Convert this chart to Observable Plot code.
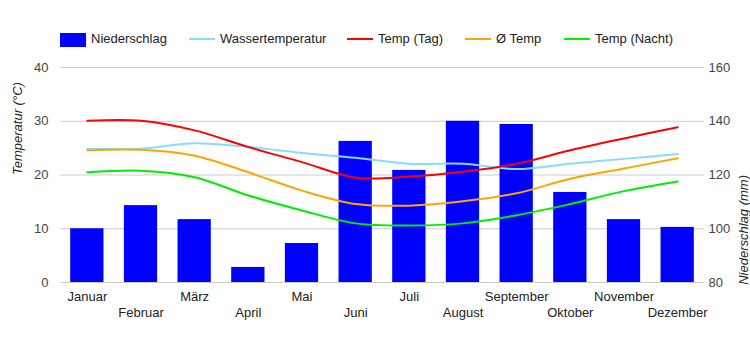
<!DOCTYPE html>
<html><head><meta charset="utf-8">
<script src="https://cdn.jsdelivr.net/npm/d3@7"></script>
<script src="https://cdn.jsdelivr.net/npm/@observablehq/plot@0.6"></script>
<style>
body{margin:0;background:#fff;font-family:"Liberation Sans",Arial,sans-serif;}
#wrap{position:relative;width:750px;height:350px;}
#legend{position:relative;height:50px;}
.it{position:absolute;top:31px;font-size:13px;color:#222;line-height:16px;}
.sw{position:absolute;}
</style></head>
<body><div id="wrap"><div id="legend"></div><div id="chart"></div></div>
<script>
const months = ["Januar","Februar","März","April","Mai","Juni","Juli","August","September","Oktober","November","Dezember"];
const niederschlag = [100, 108.6, 103.4, 85.6, 94.5, 132.5, 121.7, 140, 138.8, 113.5, 103.4, 100.5];
const wasser = [24.9, 24.9, 25.9, 25.2, 24.1, 23.2, 22.1, 22.1, 21.1, 22.1, 23.0, 23.9];
const tempTag = [30.1, 30.1, 28.3, 25.2, 22.4, 19.5, 19.7, 20.6, 22.1, 24.6, 26.8, 28.9];
const tempAvg = [24.6, 24.7, 23.6, 20.5, 17.1, 14.6, 14.3, 15.1, 16.6, 19.3, 21.2, 23.1];
const tempNacht = [20.5, 20.8, 19.6, 16.2, 13.4, 11.0, 10.6, 11.0, 12.5, 14.6, 17.0, 18.8];
const tempTicks = [0, 10, 20, 30, 40];
const legendItems = [
  {label: "Niederschlag", color: "#0000ff", type: "box", x: 60},
  {label: "Wassertemperatur", color: "#87dcff", type: "line", x: 189},
  {label: "Temp (Tag)", color: "#ff0000", type: "line", x: 347},
  {label: "Ø Temp", color: "#ffa500", type: "line", x: 465},
  {label: "Temp (Nacht)", color: "#00ee00", type: "line", x: 564}
];

const toT = mm => (mm - 80) / 2;
const bars = months.map((m, i) => ({m, v: toT(niederschlag[i])}));
const series = [
  {name: "Wassertemperatur", vals: wasser, color: "#87dcff"},
  {name: "Ø Temp", vals: tempAvg, color: "#ffa500"},
  {name: "Temp (Nacht)", vals: tempNacht, color: "#00ee00"},
  {name: "Temp (Tag)", vals: tempTag, color: "#ff0000"}
];

const lg = document.getElementById("legend");
for (const it of legendItems) {
  const sw = document.createElement("div");
  sw.className = "sw";
  if (it.type === "box") {
    sw.style.cssText = `left:${it.x}px;top:33px;width:26px;height:14px;background:${it.color}`;
  } else {
    sw.style.cssText = `left:${it.x}px;top:38px;width:26px;height:2px;background:${it.color}`;
  }
  lg.appendChild(sw);
  const t = document.createElement("div");
  t.className = "it";
  t.style.left = (it.x + 31) + "px";
  t.textContent = it.label;
  lg.appendChild(t);
}

const odd = months.filter((d, i) => i % 2 === 0);
const even = months.filter((d, i) => i % 2 === 1);

const marks = [
  Plot.gridY(tempTicks, {stroke: "#cccccc", strokeOpacity: 1}),
  Plot.barY(bars, {x: "m", y1: 0, y2: "v", fill: "#0000ff"}),
  ...series.map(s => Plot.line(months.map((m, i) => ({m, v: s.vals[i]})), {x: "m", y: "v", stroke: s.color, strokeWidth: 2, curve: "catmull-rom"})),
  Plot.axisY(tempTicks, {anchor: "left", tickSize: 0, tickPadding: 12, fill: "#444", fontSize: 13, label: null}),
  Plot.axisY(tempTicks, {anchor: "right", tickSize: 0, tickPadding: 4, fill: "#444", fontSize: 13, label: null, tickFormat: d => 80 + 2 * d}),
  Plot.axisX(odd, {anchor: "bottom", tickSize: 0, tickPadding: 9, fill: "#222", fontSize: 13, label: null}),
  Plot.axisX(even, {anchor: "bottom", tickSize: 0, tickPadding: 25, fill: "#222", fontSize: 13, label: null}),
  Plot.text(["Temperatur (°C)"], {frameAnchor: "left", rotate: -90, dx: -43, fontStyle: "italic", fontSize: 13, fill: "#222"}),
  Plot.text(["Niederschlag (mm)"], {frameAnchor: "right", rotate: -90, dx: 39, fontStyle: "italic", fontSize: 13, fill: "#222"})
];

const chart = Plot.plot({
  width: 750,
  height: 300,
  marginTop: 17,
  marginBottom: 68,
  marginLeft: 60,
  marginRight: 46,
  style: {fontFamily: "'Liberation Sans', Arial, sans-serif", background: "#fff"},
  x: {type: "band", domain: months, paddingInner: 0.38, paddingOuter: 0.19, round: false, axis: null},
  y: {domain: [0, 40], axis: null},
  marks
});
document.getElementById("chart").appendChild(chart);
</script></body></html>
